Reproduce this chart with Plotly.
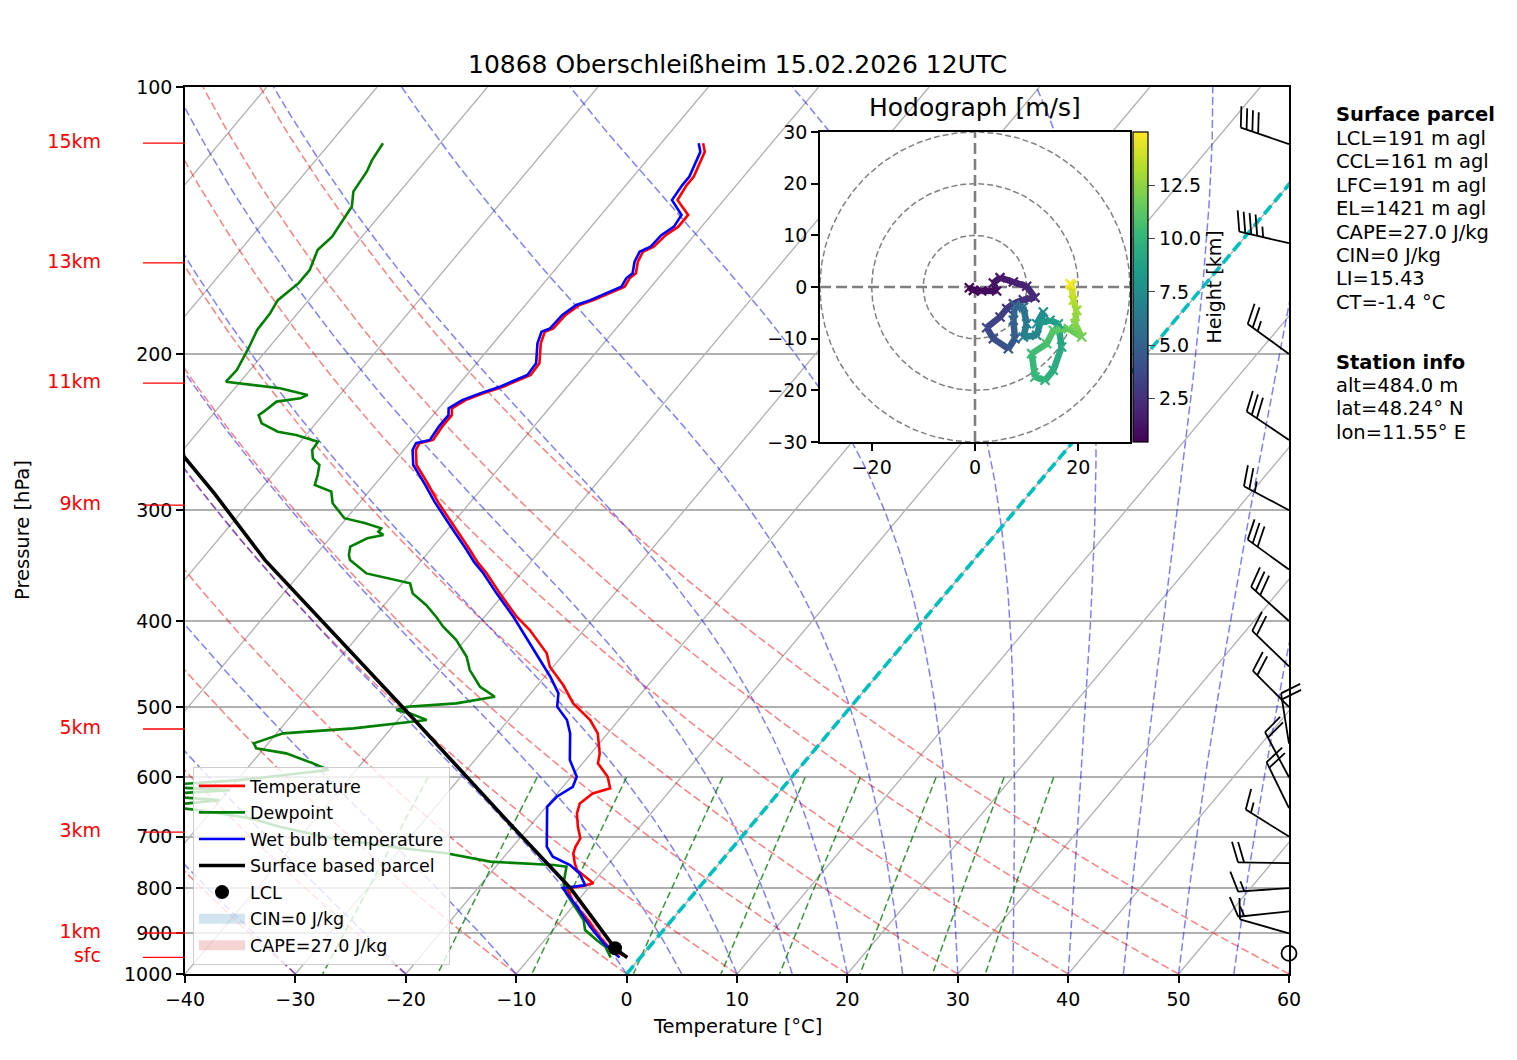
import numpy as np
import plotly.graph_objects as go
from plotly.colors import sample_colorscale

TITLE = "10868 Oberschleißheim 15.02.2026 12UTC"

# ---- sounding (hPa / degC) ----
temp_p = [958, 935.5, 907.7, 869.2, 832.2, 800.4, 797.1, 790.2, 763.4, 750.3,
          731.0, 718.7, 703.1, 682.4, 659.1, 642.2, 625.7, 617.5, 599.3, 578.8,
          564.0, 535.4, 517.2, 495.3, 472.3, 450.4, 435.0, 409.5, 395.6, 372.3,
          353.5, 343.3, 332.7, 313.1, 293.4, 279.8, 266.8, 256.6, 252.1, 250.0,
          241.5, 234.4, 230.3, 225.4, 221.5, 217.7, 211.2, 204.9, 194.5, 188.8,
          187.1, 180.7, 176.1, 173.9, 170.8, 167.9, 164.3, 162.2, 157.4, 153.4,
          151.4, 146.9, 143.7, 139.4, 134.1, 129.0, 126.2, 121.9, 118.3, 115.7]
temp_t = [-1.2, -3.5, -5.3, -7.6, -10.2, -11.9, -10.9, -9.9, -12.4, -13.1,
          -14.0, -14.3, -14.5, -15.6, -16.7, -17.2, -16.8, -15.6, -16.7, -18.6,
          -19.2, -20.9, -22.6, -25.4, -27.7, -30.3, -31.6, -34.9, -37.1, -40.4,
          -43.1, -44.8, -46.4, -49.6, -53.0, -55.3, -57.7, -58.9, -59.1, -58.1,
          -58.3, -58.3, -58.8, -58.2, -57.1, -55.8, -54.2, -54.3, -55.7, -56.2,
          -55.7, -55.6, -55.1, -54.2, -53.2, -52.4, -52.6, -52.4, -53.1, -53.4,
          -52.8, -52.6, -52.1, -52.1, -54.2, -54.5, -54.5, -55.0, -55.4, -56.2]

wetbulb_p = [958, 923.5, 884.4, 839.8, 800.4, 794.0, 770.2, 753.6, 737.4, 718.7,
             682.4, 647.9, 631.2, 615.1, 599.3, 573.8, 535.4, 517.2, 499.6, 482.6,
             462.2, 442.6, 416.7, 395.6, 372.3, 353.5, 343.3, 332.7, 313.1, 293.4,
             279.8, 266.8, 256.6, 252.1, 250.0, 241.5, 234.4, 230.3, 225.4, 221.5,
             217.7, 211.2, 204.9, 194.5, 188.8, 187.1, 180.7, 176.1, 173.9, 170.8,
             167.9, 164.3, 162.2, 157.4, 153.4, 151.4, 146.9, 143.7, 139.4, 134.1,
             129.0, 126.2, 121.9, 118.3, 115.7]
wetbulb_t = [-1.9, -4.4, -6.9, -9.6, -12.3, -10.5, -11.9, -13.4, -15.6, -16.9,
             -18.4, -19.9, -19.8, -19.1, -19.5, -21.4, -23.4, -24.7, -26.6, -27.5,
             -29.5, -31.7, -34.7, -37.4, -40.7, -43.4, -45.1, -46.7, -49.9, -53.3,
             -55.6, -58.0, -59.2, -59.4, -58.4, -58.6, -58.6, -59.1, -58.5, -57.4,
             -56.1, -54.5, -54.6, -56.0, -56.5, -56.0, -55.9, -55.4, -54.5, -53.5,
             -52.7, -52.9, -52.7, -53.4, -53.7, -53.1, -53.0, -52.5, -52.7, -54.7,
             -54.9, -54.9, -55.4, -55.8, -56.6]

dewp_p = [958, 931.7, 915.6, 892.2, 869.2, 811.1, 790.2, 756.9, 753.6, 747.0,
          731.0, 721.1, 702.6, 682.4, 667.3, 653.6, 646.8, 636.7, 628.5, 620.5,
          614.0, 604.5, 588.8, 578.8, 564.0, 556.6, 549.5, 535.4, 528.5, 517.2,
          508.4, 504.0, 499.6, 495.3, 486.9, 474.4, 454.3, 438.8, 420.3, 406.0,
          395.6, 383.7, 372.3, 362.7, 353.5, 341.5, 336.9, 329.8, 322.7, 319.9,
          317.2, 314.4, 310.3, 306.3, 294.6, 285.9, 281.0, 273.8, 266.8, 262.2,
          256.6, 251.1, 246.8, 244.7, 239.4, 234.4, 232.3, 226.3, 224.4, 222.4,
          218.6, 215.8, 214.9, 208.5, 197.0, 187.9, 179.9, 173.9, 166.4, 160.8,
          152.7, 147.5, 140.0, 136.4, 131.2, 124.6, 120.9, 115.7]
dewp_t = [-2.7, -4.0, -5.3, -7.1, -8.0, -11.6, -12.6, -13.6, -14.9, -20.9,
          -25.5, -30.1, -37.2, -42.6, -46.0, -51.1, -55.0, -50.1, -56.8, -49.9,
          -57.5, -49.8, -42.5, -44.4, -47.6, -50.7, -51.3, -49.4, -43.4, -37.4,
          -39.4, -40.9, -40.2, -36.0, -33.0, -35.1, -37.3, -38.6, -40.8, -43.0,
          -44.4, -46.2, -48.3, -49.3, -54.0, -56.5, -57.0, -57.5, -56.6, -55.4,
          -56.1, -56.1, -57.9, -60.2, -62.4, -63.4, -65.4, -65.9, -66.5, -67.6,
          -68.3, -68.4, -70.9, -72.8, -74.9, -75.8, -75.6, -75.2, -73.3, -72.9,
          -75.9, -80.2, -81.3, -81.2, -81.8, -82.4, -82.5, -82.8, -82.2, -82.2,
          -83.0, -82.7, -83.0, -83.2, -84.2, -84.5, -84.9, -85.2]

parcel_p = [958, 935.5, 800.4, 682.4, 504.0, 341.5, 287.0, 261.1, 250.0]
parcel_t = [-1.2, -3.0, -11.6, -21.5, -40.1, -64.2, -73.9, -79.4, -81.0]
lcl_p, lcl_t = 935.5, -3.0
el_p = 800.4
cape_label = "CAPE=27.0 J/kg"
cin_label = "CIN=0 J/kg"

# wind barbs (hPa, direction deg, speed kt)
wind_p = [116, 150, 200, 250, 300, 350, 400, 450, 500, 550, 600, 650, 700,
          750, 800, 850, 900, 948]
wind_dir = [289, 283, 306, 304, 298, 306, 312, 314, 315, 351, 332, 334, 302,
            271, 266, 264, 286, 0]
wind_kt = [40, 45, 25, 30, 25, 30, 30, 20, 20, 20, 20, 20, 15, 20, 15, 15, 10, 0]

# hodograph (m/s) and height (km)
hodo_u = [-1.10, -0.32, 1.29, 4.19, 3.55, 4.84, 7.42, 10.0, 11.61, 9.35,
          7.42, 6.13, 4.84, 2.26, 3.55, 6.45, 7.74, 7.42, 7.74, 9.35,
          10.0, 9.35, 11.94, 13.23, 11.94, 14.52, 16.13, 16.77, 15.16, 13.55,
          11.61, 10.97, 13.87, 15.16, 18.06, 20.65, 19.35, 19.68, 19.03, 18.71, 18.39]
hodo_v = [-0.13, -0.65, -0.77, -0.77, 0.77, 1.81, 0.97, 0.13, -2.06, -2.45,
          -3.23, -4.19, -5.81, -7.87, -10.0, -11.94, -10.0, -6.45, -3.55, -3.87,
          -7.10, -9.68, -9.35, -4.84, -7.10, -6.45, -7.10, -11.61, -16.13, -18.06,
          -17.42, -12.90, -10.97, -8.39, -8.06, -9.68, -7.10, -4.52, -2.58, 0.32, 0.65]
hodo_h = [0.46, 0.6, 0.8, 1.0, 1.2, 1.4, 1.7, 1.9, 2.2, 2.5,
          2.8, 3.0, 3.3, 3.6, 3.9, 4.3, 4.7, 5.0, 5.4, 5.8,
          6.3, 6.8, 7.1, 7.5, 7.9, 8.4, 8.8, 9.2, 9.5, 9.8,
          10.1, 10.4, 10.7, 11.0, 11.4, 11.8, 12.3, 12.8, 13.4, 14.2, 15.0]

height_labels = ["15km", "13km", "11km", "9km", "5km", "3km", "1km", "sfc"]
height_p = [115.7, 157.9, 215.7, 296.0, 529.4, 691.9, 899.0, 958]

surface_info = ["LCL=191 m agl", "CCL=161 m agl", "LFC=191 m agl", "EL=1421 m agl",
                "CAPE=27.0 J/kg", "CIN=0 J/kg", "LI=15.43", "CT=-1.4 °C"]
station_info = ["alt=484.0 m", "lat=48.24° N", "lon=11.55° E"]

# ---- page geometry (page pixels; the page body is offset by 8 px) ----
W, H = 1517, 1060
OFF = 8
M_L, M_R, M_T, M_B = 2, 18, 79, 94
PLOT_W = W - M_L - M_R
PLOT_H = H - M_T - M_B
SKEW = 67.4          # degC shift per decade of pressure
FONT = "DejaVu Sans"


def px(x):
    return (x - OFF - M_L) / PLOT_W


def py(y):
    return (OFF + H - M_B - y) / PLOT_H


def skew(t, p):
    return np.asarray(t, float) + SKEW * np.log10(1000.0 / np.asarray(p, float))


# ---- thermodynamic reference lines ----
RD, CPD, LV, EPS = 287.04749, 1004.6662, 2.50084e6, 0.6219569
levels = np.geomspace(1000, 100, 90)


def moist_dtdp(p, tk):
    es = 6.112 * np.exp(17.67 * (tk - 273.15) / (tk - 29.65))
    rs = EPS * es / (p - es)
    return (RD * tk + LV * rs) / (CPD + LV * LV * rs * EPS / (RD * tk * tk)) / p


def moist_adiabats(t0):
    tk = np.asarray(t0, float) + 273.15
    out = [tk.copy()]
    for p1, p2 in zip(levels[:-1], levels[1:]):
        h = p2 - p1
        k1 = moist_dtdp(p1, tk)
        k2 = moist_dtdp(p1 + h / 2, tk + h * k1 / 2)
        k3 = moist_dtdp(p1 + h / 2, tk + h * k2 / 2)
        k4 = moist_dtdp(p2, tk + h * k3)
        tk = tk + h * (k1 + 2 * k2 + 2 * k3 + k4) / 6
        out.append(tk.copy())
    return np.array(out).T - 273.15


def joined(curves):
    xs, ys = [], []
    for x, y in curves:
        xs += list(x) + [None]
        ys += list(y) + [None]
    return xs, ys


fig = go.Figure()

iso_x, iso_y = joined([(skew([t, t], [1000, 100]), [1000, 100]) for t in range(-120, 61, 10)])
fig.add_trace(go.Scatter(x=iso_x, y=iso_y, mode="lines", line=dict(color="#b0b0b0", width=1.3),
                         hoverinfo="skip", showlegend=False))

dry_t0 = np.arange(-40, 61, 10)
dry_x, dry_y = joined([(skew((t + 273.15) * (levels / 1000) ** (RD / CPD) - 273.15, levels), levels)
                       for t in dry_t0])
fig.add_trace(go.Scatter(x=dry_x, y=dry_y, mode="lines",
                         line=dict(color="rgba(255,0,0,0.5)", width=1.5, dash="8px,3.5px"),
                         hoverinfo="skip", showlegend=False))

moist_t0 = np.concatenate((np.arange(-40, 0, 10), np.arange(0, 61, 5)))
moist_x, moist_y = joined([(skew(c, levels), levels) for c in moist_adiabats(moist_t0)])
fig.add_trace(go.Scatter(x=moist_x, y=moist_y, mode="lines",
                         line=dict(color="rgba(0,0,255,0.5)", width=1.5, dash="8px,3.5px"),
                         hoverinfo="skip", showlegend=False))

mix_w = [0.0004, 0.001, 0.002, 0.004, 0.007, 0.01, 0.016, 0.024, 0.032]
mix_p = np.linspace(600, 1000, 30)
mix_curves = []
for w in mix_w:
    lnr = np.log(mix_p * w / (EPS + w) / 6.112)
    mix_curves.append((skew(243.5 * lnr / (17.67 - lnr), mix_p), mix_p))
mix_x, mix_y = joined(mix_curves)
fig.add_trace(go.Scatter(x=mix_x, y=mix_y, mode="lines",
                         line=dict(color="rgba(0,128,0,0.8)", width=1.5, dash="7px,3.5px"),
                         hoverinfo="skip", showlegend=False))

fig.add_trace(go.Scatter(x=skew([0, 0], [1000, 100]), y=[1000, 100], mode="lines",
                         line=dict(color="#00bfbf", width=3.6, dash="11px,5px"),
                         hoverinfo="skip", showlegend=False))

# CAPE area between parcel and environment
cp = np.array(parcel_p)
tp = np.array(temp_p)
sel_par = (cp <= lcl_p) & (cp >= el_p)
sel_env = (tp <= lcl_p) & (tp >= el_p)
cape_x = list(skew(np.array(parcel_t)[sel_par], cp[sel_par])) + \
    list(skew(np.array(temp_t)[sel_env], tp[sel_env])[::-1])
cape_y = list(cp[sel_par]) + list(tp[sel_env][::-1])

CAPE_COL = "rgba(214,39,40,0.2)"
CIN_COL = "rgba(31,119,180,0.2)"


def legend_kw(name, rank):
    return dict(name=name, legendgroup=name, legendrank=rank)


fig.add_trace(go.Scatter(x=cape_x, y=cape_y, mode="none", fill="toself", fillcolor=CAPE_COL,
                         hoverinfo="skip", showlegend=False, legendgroup=cape_label))
# legend patches for the shaded areas (CIN is zero, so nothing is shaded for it)
lcl_x = list(skew([lcl_t], [lcl_p]))
fig.add_trace(go.Scatter(x=lcl_x, y=[lcl_p], mode="lines", line=dict(color=CIN_COL, width=14),
                         hoverinfo="skip", **legend_kw(cin_label, 6)))
fig.add_trace(go.Scatter(x=lcl_x, y=[lcl_p], mode="lines", line=dict(color=CAPE_COL, width=14),
                         hoverinfo="skip", **legend_kw(cape_label, 7)))

fig.add_trace(go.Scatter(x=skew(temp_t, temp_p), y=temp_p, mode="lines",
                         line=dict(color="red", width=2.6), **legend_kw("Temperature", 1)))
fig.add_trace(go.Scatter(x=skew(dewp_t, dewp_p), y=dewp_p, mode="lines",
                         line=dict(color="green", width=2.6), **legend_kw("Dewpoint", 2)))
fig.add_trace(go.Scatter(x=skew(wetbulb_t, wetbulb_p), y=wetbulb_p, mode="lines",
                         line=dict(color="blue", width=2.6),
                         **legend_kw("Wet bulb temperature", 3)))
fig.add_trace(go.Scatter(x=skew(parcel_t, parcel_p), y=parcel_p, mode="lines",
                         line=dict(color="black", width=3.6),
                         **legend_kw("Surface based parcel", 4)))
fig.add_trace(go.Scatter(x=lcl_x, y=[lcl_p], mode="markers",
                         marker=dict(color="black", size=14), **legend_kw("LCL", 5)))

# ---- wind barbs (matplotlib-style geometry, sizes in pixels) ----
BARB_LEN = 51.0
BARB_X = 1289


def barb_lines(p, wdir, spd):
    rad = np.deg2rad(wdir)
    d = np.array([np.sin(rad), -np.cos(rad)])
    n = np.array([-d[1], d[0]])
    hgt, wid, gap = 0.4 * BARB_LEN, 0.25 * BARB_LEN, 0.12 * BARB_LEN

    def to_ax(v):
        return BARB_X + v[0], p * 10 ** (v[1] / PLOT_H)

    segs = [(np.zeros(2), BARB_LEN * d)]
    spd5 = int(round(spd / 5.0)) * 5
    nfull, half = spd5 // 10, spd5 % 10 >= 5
    off = BARB_LEN
    for _ in range(nfull):
        a = off * d
        segs.append((a, a + hgt * n + wid / 2 * d))
        off -= gap
    if half:
        if off == BARB_LEN:
            off -= 1.5 * gap
        a = off * d
        segs.append((a, a + hgt / 2 * n + wid / 4 * d))
    xs, ys = [], []
    for a, b in segs:
        (x0, y0), (x1, y1) = to_ax(a), to_ax(b)
        xs += [x0, x1, None]
        ys += [y0, y1, None]
    return xs, ys


bx, by, calm_p = [], [], []
for p, wd, ws in zip(wind_p, wind_dir, wind_kt):
    if ws < 2.5:
        calm_p.append(p)
        continue
    x, y = barb_lines(p, wd, ws)
    bx += x
    by += y
fig.add_trace(go.Scatter(x=bx, y=by, mode="lines", line=dict(color="black", width=1.8),
                         xaxis="x3", yaxis="y3", hoverinfo="skip", showlegend=False))
fig.add_trace(go.Scatter(x=[BARB_X] * len(calm_p), y=calm_p, mode="markers",
                         marker=dict(symbol="circle-open", size=15, color="black",
                                     line=dict(width=1.8)),
                         xaxis="x3", yaxis="y3", hoverinfo="skip", showlegend=False))

# ---- height labels on the left ----
hx, hy = joined([([143, 185], [p, p]) for p in height_p])
fig.add_trace(go.Scatter(x=hx, y=hy, mode="lines", line=dict(color="red", width=1.3),
                         xaxis="x4", yaxis="y4", hoverinfo="skip", showlegend=False))
fig.add_trace(go.Scatter(x=[101] * len(height_p), y=height_p, mode="text", text=height_labels,
                         textposition="middle left", textfont=dict(color="red", size=19),
                         cliponaxis=False, xaxis="x4", yaxis="y4", hoverinfo="skip",
                         showlegend=False))

# ---- hodograph inset ----
HODO_LIM = 30
fig.add_trace(go.Scatter(x=[-HODO_LIM, HODO_LIM, HODO_LIM, -HODO_LIM, -HODO_LIM],
                         y=[-HODO_LIM, -HODO_LIM, HODO_LIM, HODO_LIM, -HODO_LIM],
                         mode="none", fill="toself", fillcolor="white",
                         xaxis="x2", yaxis="y2", hoverinfo="skip", showlegend=False))
ang = np.linspace(0, 2 * np.pi, 241)
ring_x, ring_y = joined([(r * np.cos(ang), r * np.sin(ang)) for r in (10, 20, 30)])
fig.add_trace(go.Scatter(x=ring_x, y=ring_y, mode="lines",
                         line=dict(color="gray", width=1.5, dash="6px,3px"),
                         xaxis="x2", yaxis="y2", hoverinfo="skip", showlegend=False))
fig.add_trace(go.Scatter(x=[-HODO_LIM, HODO_LIM, None, 0, 0], y=[0, 0, None, -HODO_LIM, HODO_LIM],
                         mode="lines", line=dict(color="gray", width=2.6, dash="11px,5px"),
                         xaxis="x2", yaxis="y2", hoverinfo="skip", showlegend=False))

hmin, hmax = min(hodo_h), max(hodo_h)
seg_h = [(a + b) / 2 for a, b in zip(hodo_h[:-1], hodo_h[1:])]
seg_col = sample_colorscale("Viridis", [(h - hmin) / (hmax - hmin) for h in seg_h])
for i, c in enumerate(seg_col):
    fig.add_trace(go.Scatter(x=hodo_u[i:i + 2], y=hodo_v[i:i + 2], mode="lines",
                             line=dict(color=c, width=6.5), xaxis="x2", yaxis="y2",
                             hoverinfo="skip", showlegend=False))
fig.add_trace(go.Scatter(
    x=hodo_u, y=hodo_v, mode="markers", xaxis="x2", yaxis="y2", showlegend=False,
    marker=dict(size=9, symbol="x-thin", color=hodo_h, colorscale="Viridis", cmin=hmin, cmax=hmax,
                line=dict(width=2.2, color=hodo_h, colorscale="Viridis", cmin=hmin, cmax=hmax),
                colorbar=dict(x=px(1133), xanchor="left", xpad=0, ypad=0, thickness=15,
                              len=310 / PLOT_H, lenmode="fraction", y=py(287), yanchor="middle",
                              outlinewidth=1.2, outlinecolor="black", ticks="outside", ticklen=7,
                              tickvals=[2.5, 5.0, 7.5, 10.0, 12.5],
                              ticktext=["2.5", "5.0", "7.5", "10.0", "12.5"],
                              tickfont=dict(size=19),
                              title=dict(text="Height [km]", side="right", font=dict(size=19))))))

# ---- layout ----
frame = dict(showline=True, mirror=True, linecolor="black", linewidth=1.6, ticks="outside",
             ticklen=7, tickwidth=1.6, tickcolor="black", zeroline=False, automargin=False)
hidden = dict(visible=False, showgrid=False, zeroline=False, fixedrange=True, automargin=False)

fig.update_layout(
    width=W, height=H,
    margin=dict(l=M_L, r=M_R, t=M_T, b=M_B, autoexpand=False),
    paper_bgcolor="white", plot_bgcolor="rgba(0,0,0,0)",
    font=dict(family=FONT, size=19, color="black"),
    legend=dict(x=px(193), y=py(965), xanchor="left", yanchor="bottom",
                bgcolor="rgba(255,255,255,0.8)", bordercolor="#cccccc", borderwidth=1,
                font=dict(size=17.5), itemwidth=46, tracegroupgap=0.8),
    xaxis=dict(domain=[px(185), px(1289)], range=[-40, 60], tickvals=list(range(-40, 61, 10)),
               showgrid=False, anchor="y", **frame),
    yaxis=dict(domain=[0, 1], type="log", range=[3, 2], tickvals=list(range(100, 1001, 100)),
               ticktext=[str(v) for v in range(100, 1001, 100)], showgrid=True,
               gridcolor="#b0b0b0", gridwidth=1.6, anchor="x", **frame),
    xaxis2=dict(domain=[px(820), px(1130)], range=[-HODO_LIM, HODO_LIM], tickvals=[-20, 0, 20],
                showgrid=False, anchor="y2", **frame),
    yaxis2=dict(domain=[py(442), py(132)], range=[-HODO_LIM, HODO_LIM],
                tickvals=list(range(-30, 31, 10)), showgrid=False, anchor="x2", **frame),
    xaxis3=dict(domain=[px(1200), px(1320)], range=[1200, 1320], anchor="y3", **hidden),
    yaxis3=dict(domain=[0, 1], type="log", range=[3, 2], anchor="x3", **hidden),
    xaxis4=dict(domain=[px(20), px(185)], range=[20, 185], anchor="y4", **hidden),
    yaxis4=dict(domain=[0, 1], type="log", range=[3, 2], anchor="x4", **hidden),
)

ann = [
    dict(text=TITLE, x=px(737), y=py(65), font=dict(size=25)),
    dict(text="Hodograph [m/s]", x=px(975), y=py(108), font=dict(size=25)),
    dict(text="Temperature [°C]", x=px(737), y=py(1026), font=dict(size=19.5)),
    dict(text="Pressure [hPa]", x=px(22), y=py(530), textangle=-90, font=dict(size=19.5)),
    dict(text="<b>Surface parcel</b>", x=px(1334), y=py(115), xanchor="left", font=dict(size=19.5)),
    dict(text="<b>Station info</b>", x=px(1334), y=py(362), xanchor="left", font=dict(size=19.5)),
]
for i, s in enumerate(surface_info):
    ann.append(dict(text=s, x=px(1334), y=py(115 + 23.4 * (i + 1)), xanchor="left",
                    font=dict(size=19.5)))
for i, s in enumerate(station_info):
    ann.append(dict(text=s, x=px(1334), y=py(362 + 23.4 * (i + 1)), xanchor="left",
                    font=dict(size=19.5)))
for a in ann:
    a.setdefault("xanchor", "center")
    a.update(xref="paper", yref="paper", yanchor="middle", showarrow=False)
fig.update_layout(annotations=ann)

fig.write_html("out.html")
